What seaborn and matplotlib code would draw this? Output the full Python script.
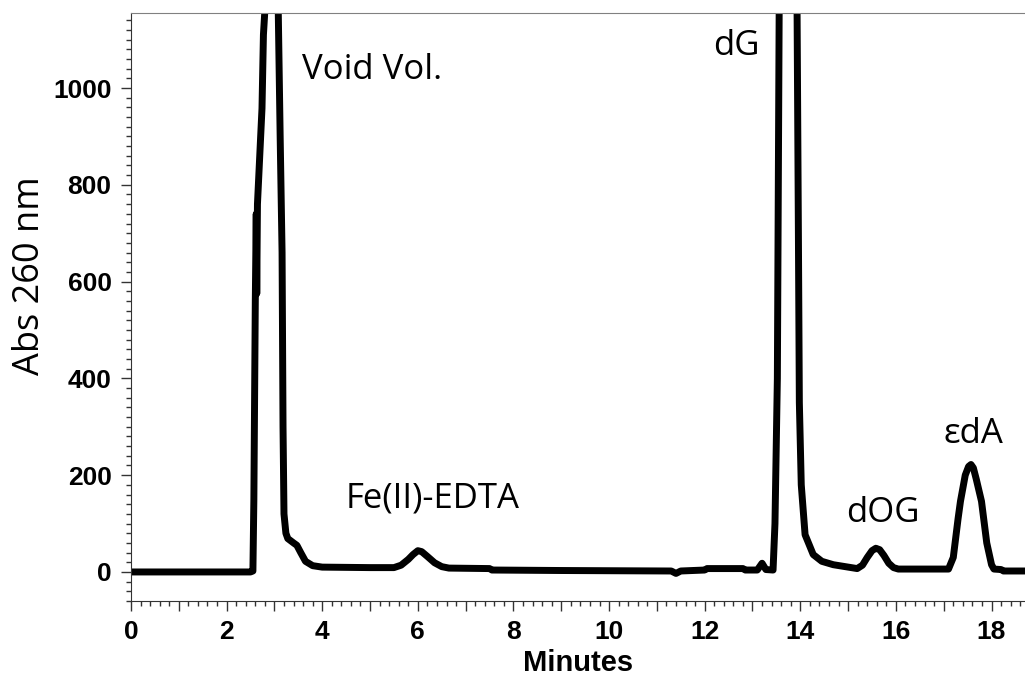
import numpy as np
import pandas as pd
import seaborn as sns
import matplotlib.pyplot as plt
from matplotlib.ticker import MultipleLocator, FuncFormatter

# retention time (min) and absorbance at 260 nm
minutes = [0.0, 1.0, 2.0, 2.5, 2.55, 2.57, 2.60, 2.62, 2.63, 2.645, 2.74, 2.77, 2.80,
           2.9, 3.0, 3.08, 3.12, 3.16, 3.18, 3.20, 3.24, 3.28, 3.40, 3.47, 3.55,
           3.65, 3.80, 4.0, 5.0, 5.5, 5.65, 5.8, 5.9, 6.0, 6.08, 6.2, 6.35, 6.5,
           6.65, 7.5, 7.55, 9.0, 11.3, 11.4, 11.5, 12.0, 12.05, 12.8, 12.85, 13.1,
           13.2, 13.28, 13.43, 13.47, 13.52, 13.56, 13.7, 13.93, 13.96, 13.98,
           14.02, 14.1, 14.27, 14.45, 14.69, 15.19, 15.3, 15.4, 15.5, 15.58, 15.66,
           15.75, 15.85, 15.95, 16.05, 17.1, 17.2, 17.3, 17.35, 17.45, 17.52, 17.57,
           17.62, 17.68, 17.79, 17.9, 18.0, 18.05, 18.2, 18.25, 18.7]
abs260 = [0, 0, 0, 0, 2, 150, 560, 740, 575, 760, 958, 1110, 1160,
          1300, 1300, 1160, 900, 660, 300, 120, 80, 69, 60, 55, 40,
          22, 13, 10, 9, 9, 14, 26, 36, 44, 42, 32, 19, 11,
          8, 7, 4, 3, 2, -3, 2, 4, 7, 7, 4, 4,
          18, 5, 4, 100, 400, 1200, 1400, 1200, 700, 350,
          180, 77, 36, 22, 15, 7, 14, 30, 44, 49, 46,
          34, 18, 9, 6, 6, 30, 110, 146, 200, 218, 222,
          215, 192, 146, 60, 15, 6, 5, 2, 2]

peak_names = ["Void Vol.", "Fe(II)-EDTA", "dG", "dOG", "\u03b5dA"]
label_x = [3.58, 4.48, 12.18, 14.96, 16.99]
label_y = [1038, 152, 1086, 121, 286]

df = pd.DataFrame({"Minutes": minutes, "Abs": abs260})

sns.set_style("ticks")
plt.rcParams["font.family"] = ["Liberation Sans", "DejaVu Sans"]

fig = plt.figure(figsize=(10.25, 6.85), dpi=100)
ax = fig.add_axes([131 / 1025, 1 - 601 / 685, (1025 - 131) / 1025, 588 / 685])

sns.lineplot(data=df, x="Minutes", y="Abs", estimator=None, sort=False,
             color="black", linewidth=5, ax=ax)
ax.lines[0].set_solid_capstyle("round")
ax.lines[0].set_solid_joinstyle("round")

ax.set_xlim(0, 18.7)
ax.set_ylim(-60, 1155)

# ticks: labels every 2 min, ticks every 1, minor every 0.2
ax.xaxis.set_major_locator(MultipleLocator(1))
ax.xaxis.set_minor_locator(MultipleLocator(0.2))
ax.xaxis.set_major_formatter(FuncFormatter(lambda v, p: f"{int(round(v))}" if int(round(v)) % 2 == 0 else ""))
ax.yaxis.set_major_locator(MultipleLocator(200))
ax.yaxis.set_minor_locator(MultipleLocator(20))

ax.tick_params(axis="both", which="major", length=7, width=1, color="#333333",
               labelsize=19, labelcolor="black", pad=7)
ax.tick_params(axis="both", which="minor", length=3.5, width=1, color="#333333")
for lab in ax.get_xticklabels() + ax.get_yticklabels():
    lab.set_fontweight("bold")

ax.spines["right"].set_visible(False)
ax.spines["top"].set_color("#808080")
ax.spines["left"].set_color("#333333")
ax.spines["bottom"].set_color("#333333")

ax.set_xlabel("Minutes", fontsize=21, fontweight="bold", color="black", labelpad=3)
ax.set_ylabel("Abs 260 nm", fontsize=26, color="black", family=["Open Sans", "DejaVu Sans"])
ax.yaxis.set_label_coords(-0.093, 0.553)

for name, tx, ty in zip(peak_names, label_x, label_y):
    ax.text(tx, ty, name, fontsize=25, ha="left", va="center", color="black",
            family=["Open Sans", "DejaVu Sans"])

fig.savefig("out.png", dpi=100)
